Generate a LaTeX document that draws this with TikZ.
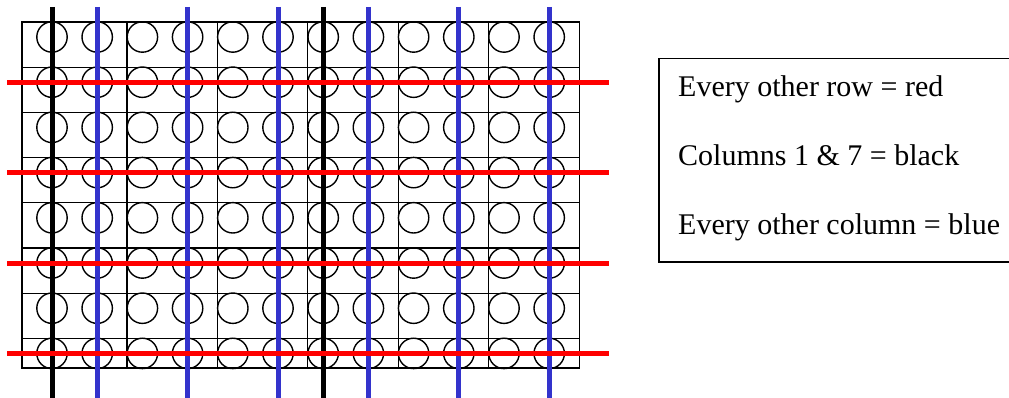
\documentclass[tikz,border=0pt]{standalone}
\usepackage{fontspec}
\setmainfont{Liberation Serif}
\definecolor{rowred}{RGB}{255,0,0}
\definecolor{colblue}{RGB}{51,51,204}
\begin{document}
\begin{tikzpicture}[x=1pt,y=-1pt,
  gridline/.style={line width=1.3pt, draw=black},
  hole/.style={line width=1.4pt, draw=black},
  bar/.style={line width=5pt},
  rowbar/.style={bar, draw=rowred},
  bluebar/.style={bar, draw=colblue},
  blackbar/.style={bar, draw=black},
  legendbox/.style={line width=1.5pt, draw=black},
  legendtext/.style={anchor=base west, inner sep=0pt, font=\fontsize{30}{36}\selectfont}]
\useasboundingbox (0,0) rectangle (1009,398);
\clip (0,0) rectangle (1009,398);

% cell grid
\draw[gridline] (22,22) rectangle (579.5,368);
\foreach \k in {1,...,7}
  \draw[gridline] (22,{22+45.2*\k}) -- (579.5,{22+45.2*\k});
\foreach \k in {0,...,4}
  \draw[gridline] ({127+90.4*\k},22) -- ({127+90.4*\k},368);

% holes, 12 columns by 8 rows
\foreach \i in {0,...,11}
  \foreach \j in {0,...,7}
    \draw[hole] ({52+45.2*\i},{37+45.2*\j}) circle[radius=15.2];

% column bars: columns 1 and 7 black, even columns blue
\foreach \i in {1,3,5,7,9,11}
  \draw[bluebar] ({52+45.2*\i},7) -- ({52+45.2*\i},400);
\foreach \i in {0,6}
  \draw[blackbar] ({52+45.2*\i},7) -- ({52+45.2*\i},400);

% row bars: every other row red
\foreach \j in {1,3,5,7}
  \draw[rowred, bar] (7,{37+45.2*\j}) -- (609,{37+45.2*\j});

% legend
\draw[legendbox] (659,58.3) rectangle (1030,262);
\node[legendtext] (l1) at (678,96.7) {Every other row = red};
\node[legendtext] (l2) at (678,166) {Columns 1 \& 7 = black};
\node[legendtext] (l3) at (678,234) {Every other column = blue};
\end{tikzpicture}
\end{document}
